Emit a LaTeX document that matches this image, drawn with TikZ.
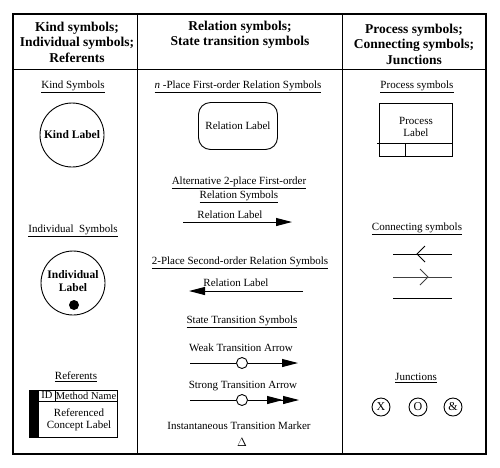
\documentclass[tikz,border=0pt]{standalone}
\usepackage{fontspec}
\setmainfont{Liberation Serif}
\usetikzlibrary{arrows.meta,positioning}

\begin{document}
\begin{tikzpicture}[
  x=1pt, y=-1pt,
  >={Triangle[length=16pt,width=8pt]},
  frame/.style={line width=1.3pt},
  rule/.style={line width=0.9pt},
  headText/.style={font=\fontsize{13.5}{15.5}\selectfont\bfseries, align=center},
  titleText/.style={font=\fontsize{11}{14}\selectfont, align=center, inner sep=1pt},
  plainText/.style={font=\fontsize{11}{12.5}\selectfont, align=center, inner sep=1pt},
  kindNode/.style={
    circle, draw, line width=0.9pt,
    minimum size=64pt, inner sep=0pt,
    font=\fontsize{11.5}{13}\selectfont\bfseries, align=center
  },
  relNode/.style={
    draw, line width=0.9pt, rounded corners=12pt,
    minimum width=79pt, minimum height=47pt,
    font=\fontsize{11}{13}\selectfont
  },
  juncNode/.style={
    circle, draw, line width=0.9pt,
    minimum size=18pt, inner sep=0pt,
    font=\fontsize{12}{14}\selectfont
  },
  stateNode/.style={circle, draw, line width=0.9pt, minimum size=11pt, inner sep=0pt},
  link/.style={line width=1pt}
]
\useasboundingbox (0,0) rectangle (500,467);

% --- Tabela ---
\draw[frame] (13,14) rectangle (486,454);
\draw[rule] (13,69) -- (486,69);
\draw[rule] (137,14) -- (137,454);
\draw[rule] (342,14) -- (342,454);

% --- Cabecalhos ---
\node[headText] (hKind) at (77,42) {Kind symbols;\\Individual symbols;\\Referents};
\node[headText] (hRel)  at (240,35) {Relation symbols;\\State transition symbols};
\node[headText] (hProc) at (414,44) {Process symbols;\\Connecting symbols;\\Junctions};

% --- Coluna 1 ---
\node[titleText] (tKind) at (73,87) {\underline{Kind Symbols}};
\node[kindNode] (kind) at (72,135) {Kind Label};

\node[titleText] (tInd) at (73,231) {\underline{Individual\ \ Symbols}};
\node[kindNode] (ind) at (73,283) {};
\node[font=\fontsize{11.5}{13}\selectfont\bfseries, align=center] (indLbl) at (73,281) {Individual\\Label};
\fill (74,305) circle (5pt);

\node[titleText] (tRef) at (76,377) {\underline{Referents}};
\draw[rule] (29,390) rectangle (117,437);
\fill (29,390) rectangle (39,437);
\draw[rule] (39,401) -- (117,401);
\draw[rule] (55,390) -- (55,401);
\node[plainText, font=\fontsize{10.5}{12}\selectfont] (refId) at (47,395.5) {ID};
\node[plainText, font=\fontsize{10.5}{12}\selectfont] (refMeth) at (86,395.5) {Method Name};
\node[plainText] (refLbl) at (79,420) {Referenced\\Concept Label};

% --- Coluna 2 ---
\node[titleText] (tNrel) at (238,87) {\underline{\textit{n} -Place First-order Relation Symbols}};
\node[relNode] (rel) at (238,126) {Relation Label};

\node[titleText] (tAlt) at (239,190) {\underline{Alternative 2-place First-order}\\\underline{Relation Symbols}};
\coordinate (a1s) at (183,222);
\coordinate (a1e) at (292,222);
\draw[link, ->] (a1s) -- (a1e);
\node[plainText] (a1lbl) at (230,215) {Relation Label};

\node[titleText] (t2nd) at (240,263) {\underline{2-Place Second-order Relation Symbols}};
\coordinate (a2s) at (303,291);
\coordinate (a2e) at (189,291);
\draw[link, ->] (a2s) -- (a2e);
\node[plainText] (a2lbl) at (236,283) {Relation Label};

\node[titleText] (tState) at (242,322) {\underline{State Transition Symbols}};
\node[plainText] (tWeak) at (241,348) {Weak Transition Arrow};
\coordinate (wkS) at (190,363);
\node[stateNode] (wkC) at (242,363) {};
\coordinate (wkE) at (298,363);
\draw[link] (wkS) -- (wkC);
\draw[link, ->] (wkC) -- (wkE);

\node[plainText] (tStrong) at (243,386) {Strong Transition Arrow};
\coordinate (stS) at (190,400);
\node[stateNode] (stC) at (242,400) {};
\coordinate (stE) at (298,400);
\draw[link] (stS) -- (stC);
\draw[link, -{Triangle[length=16pt,width=8pt]Triangle[length=16pt,width=8pt,sep=-1pt]}] (stC) -- (stE);

\node[plainText] (tInst) at (239,426) {Instantaneous Transition Marker};
\node[font=\fontsize{12}{14}\selectfont] (inst) at (242,442) {$\Delta$};

% --- Coluna 3 ---
\node[titleText] (tProc) at (417,87) {\underline{Process symbols}};
\node[draw, rule, minimum width=73pt, minimum height=53pt, anchor=north west] (proc) at (379,103) {};
\draw[rule] (377,143) -- (proc.east |- 0,143);
\draw[rule] (405,143) -- (405,156);
\node[plainText] (procLbl) at (416,127) {Process\\Label};

\node[titleText] (tConn) at (417,229) {\underline{Connecting symbols}};
\coordinate (c1s) at (393,254);
\coordinate (c1e) at (452,254);
\coordinate (c1t) at (417,254);
\draw[link] (c1s) -- (c1e);
\draw[link] ([shift={(8,-8)}]c1t) -- (c1t) -- ([shift={(8,8)}]c1t);
\coordinate (c2s) at (393,277);
\coordinate (c2e) at (452,277);
\coordinate (c2t) at (428,277);
\draw[link, black!75] (c2s) -- (c2e);
\draw[link, black!75] ([shift={(-8,-8)}]c2t) -- (c2t) -- ([shift={(-8,8)}]c2t);
\coordinate (c3s) at (393,298);
\coordinate (c3e) at (452,298);
\draw[link] (c3s) -- (c3e);

\node[titleText] (tJunc) at (416,378) {\underline{Junctions}};
\node[juncNode] (jX) at (381,407) {X};
\node[juncNode] (jO) at (418,407) {O};
\node[juncNode] (jA) at (453,407) {\&};

\end{tikzpicture}
\end{document}
